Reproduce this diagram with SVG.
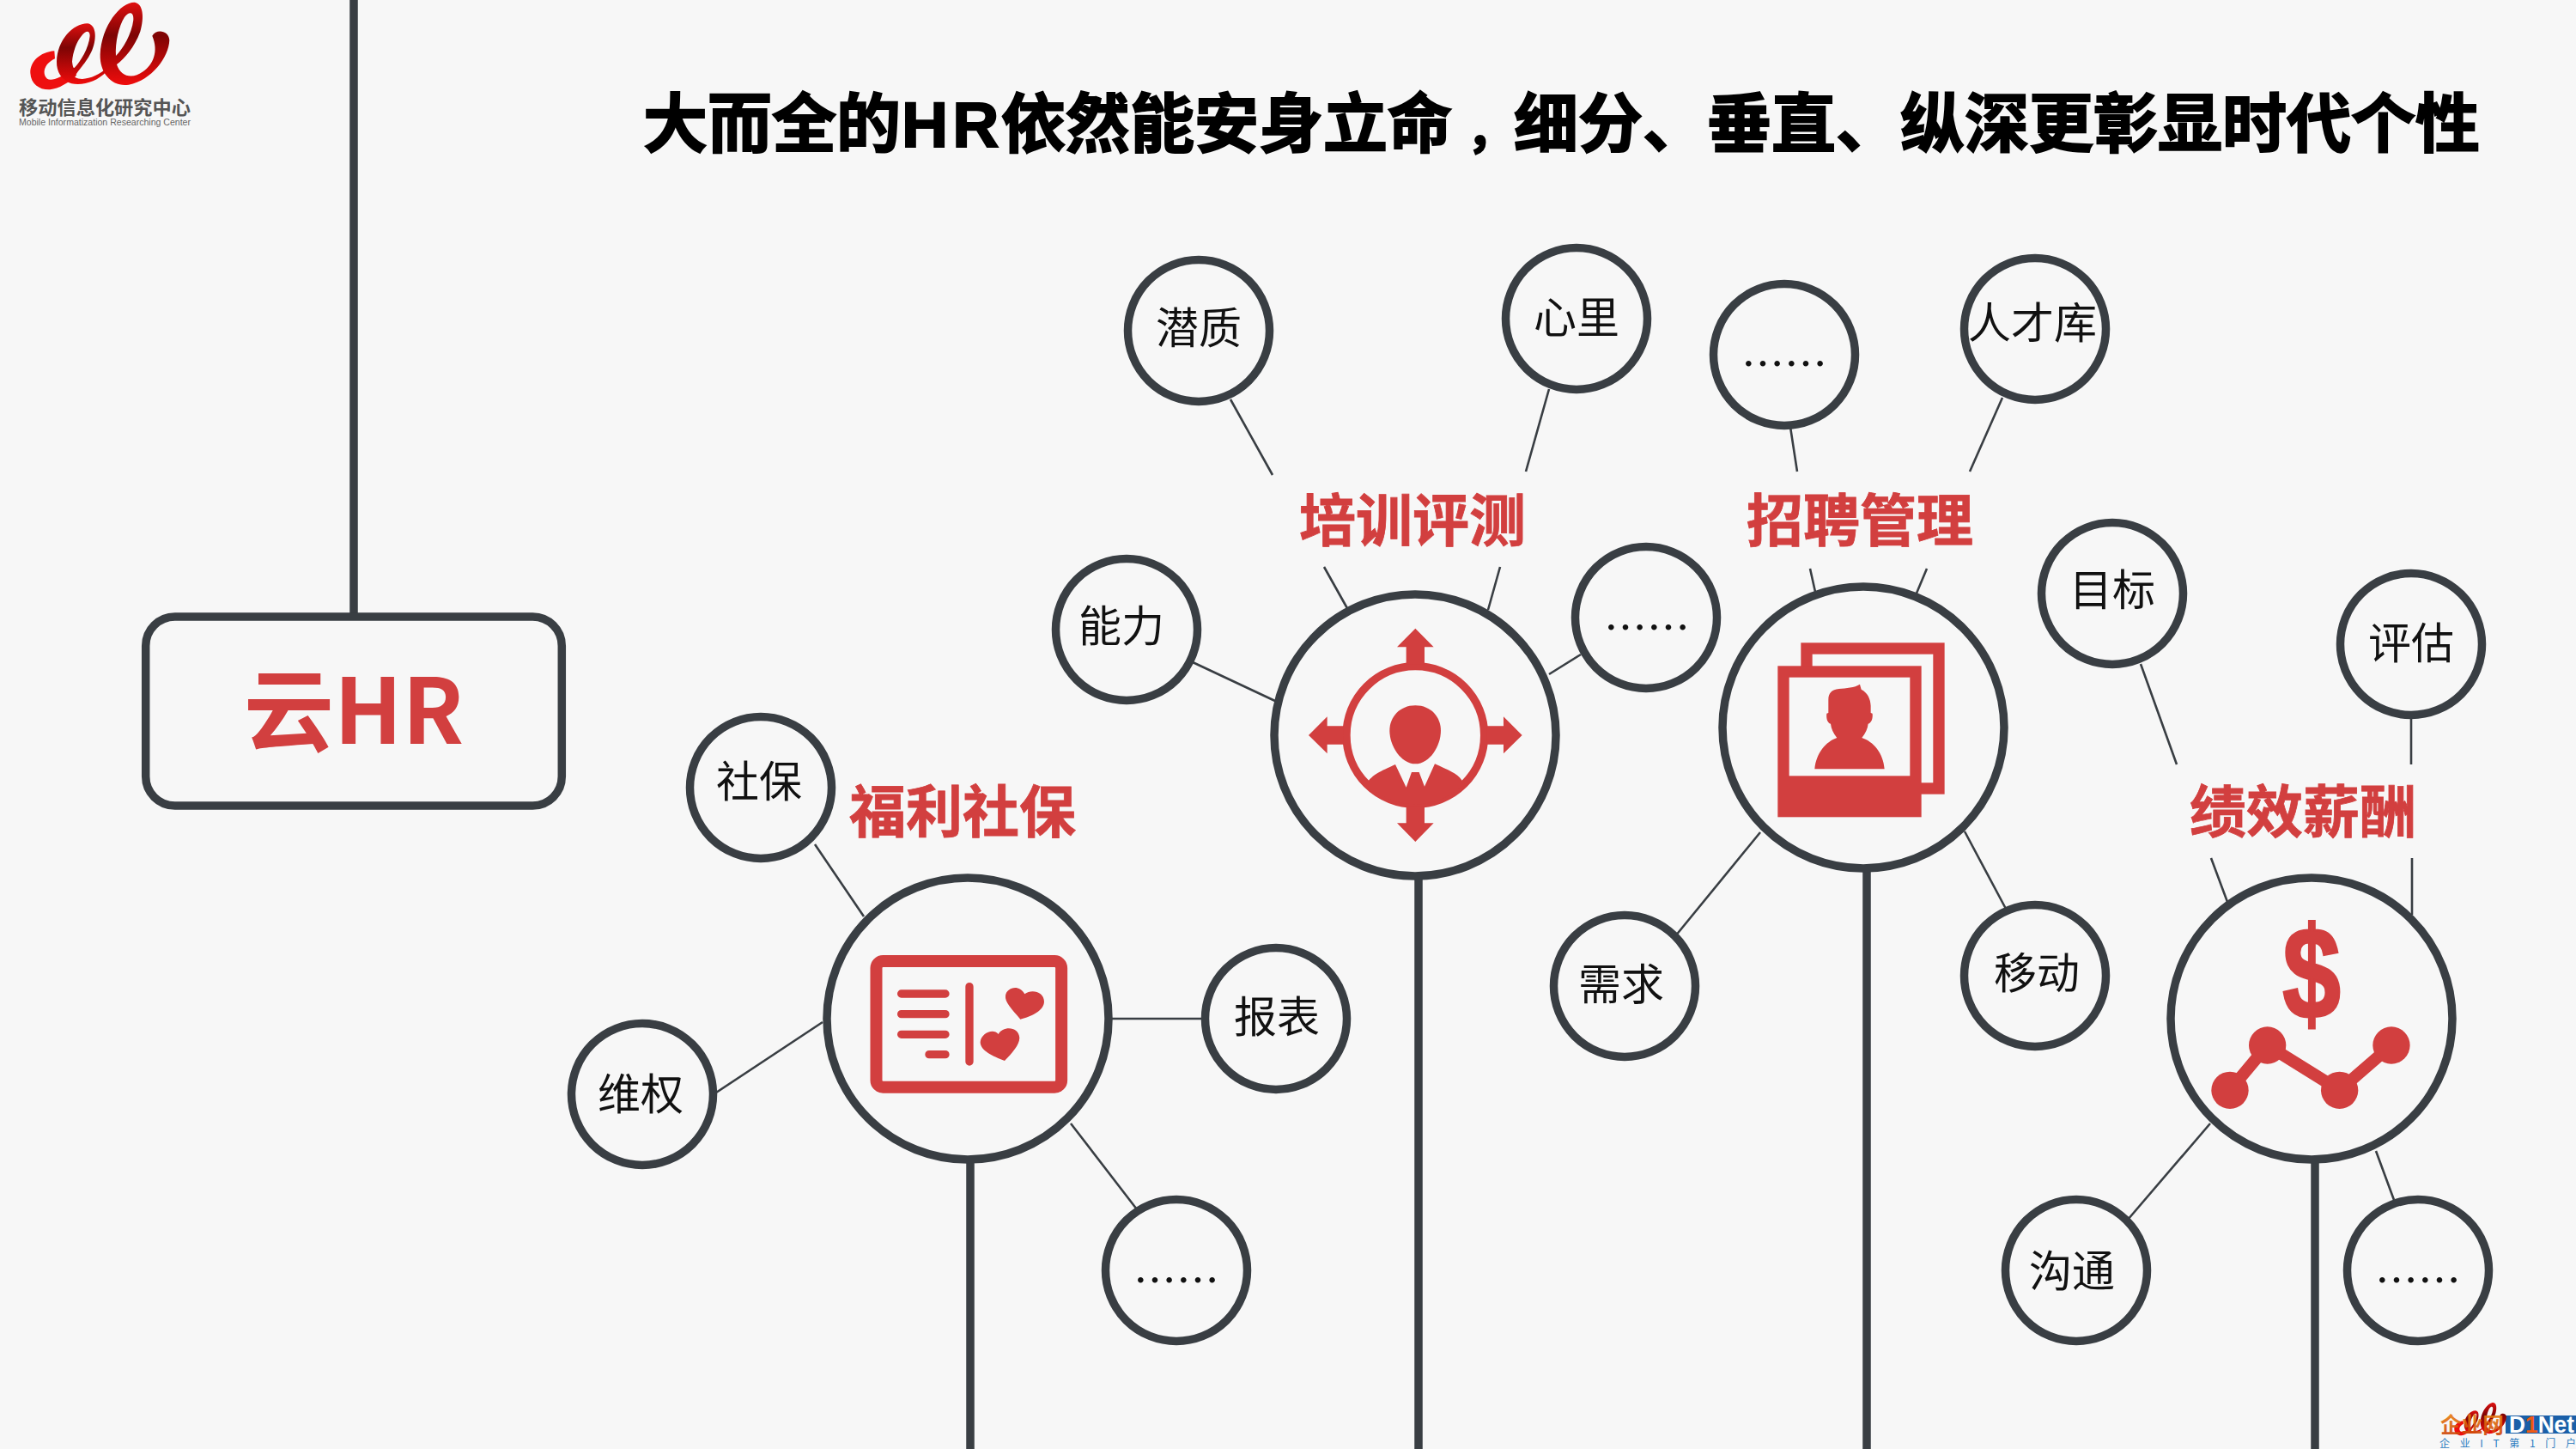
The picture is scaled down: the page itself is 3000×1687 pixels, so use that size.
<svg xmlns="http://www.w3.org/2000/svg" width="3000" height="1687" viewBox="0 0 3000 1687">
<style>
text{font-family:"Noto Sans CJK SC","Liberation Sans",sans-serif}
.stem{stroke:#393e43;stroke-width:9.5;fill:none}
.conn{stroke:#393e43;stroke-width:2.6;fill:none}
.big{fill:#f7f7f7;stroke:#393e43;stroke-width:9.5}
.small{fill:#f7f7f7;stroke:#393e43;stroke-width:9.5}
.lbl{font-size:50px;fill:#111;text-anchor:middle}
.cat{font-size:66px;font-weight:700;fill:#d23f3f;stroke:#d23f3f;stroke-width:.8;text-anchor:middle}
.r{fill:#d23f3f}
</style>
<defs>
<linearGradient id="rib" x1="0" y1="0" x2="0" y2="1"><stop offset="0" stop-color="#e01010"/><stop offset=".4" stop-color="#7d0404"/><stop offset="1" stop-color="#f00c0c"/></linearGradient>
<linearGradient id="wm" x1="0" y1="0" x2="0" y2="1"><stop offset="0" stop-color="#f09010"/><stop offset="1" stop-color="#c83a08"/></linearGradient>
<g id="ribbon">
<path fill="#ee0f0f" d="M190 178C140 182 105 215 106 255C108 295 140 315 175 313C205 310 240 290 268 262L245 245C215 270 180 285 165 275C148 260 150 225 192 205Z"/>
<path fill="url(#rib)" fill-rule="evenodd" d="M198 215C200 140 255 82 305 82C335 85 340 130 322 175C300 225 270 245 262 270C290 285 340 270 380 232L372 250C340 285 290 300 250 292C215 280 197 250 198 215ZM252 215C255 238 258 240 262 235C280 215 310 170 314 125C314 105 300 105 285 125C268 145 255 180 252 215Z"/>
<path fill="url(#rib)" fill-rule="evenodd" d="M350 190C355 90 420 8 470 8C500 12 505 60 490 110C470 165 435 205 408 225C420 265 460 280 500 250C535 225 555 180 532 125C545 100 590 105 592 140C590 200 530 280 450 296C395 305 348 260 350 190ZM405 195C430 170 460 120 466 70C468 40 450 40 435 60C415 90 402 150 405 195Z"/>
</g>
</defs>
<rect width="3000" height="1687" fill="#f7f7f7"/>

<g id="logo">
<use href="#ribbon" transform="scale(.3333)"/>
<text x="22" y="133" font-size="22" font-weight="700" fill="#555" textLength="200" lengthAdjust="spacingAndGlyphs">移动信息化研究中心</text>
<text x="22" y="146" font-size="10" fill="#666" style="font-family:'Liberation Sans',sans-serif" textLength="200" lengthAdjust="spacingAndGlyphs">Mobile  Informatization Researching Center</text>
</g>

<text id="title" y="171" font-size="75" font-weight="700" fill="#000" stroke="#000" stroke-width="2"><tspan x="749">大而全的</tspan><tspan x="1050" style="font-family:'Liberation Sans',sans-serif" letter-spacing="5">HR</tspan><tspan x="1166">依然能安身立命</tspan><tspan x="1708" font-size="55">，</tspan><tspan x="1763">细分、垂直、纵深更彰显时代个性</tspan></text>

<g id="connectors">
<path class="stem" d="M412 0V717M1652 1020V1687M2174 1010V1687M1130 1350V1687M2696 1350V1687"/>
<path class="conn" d="M1433 465L1482 553M1804 453L1777 549M2085 497L2093 549M2332 463L2294 549M1542 660L1570 710M1747 660L1733 710M2108 662L2114 689M2244 662L2231 693M1389 771L1487 817M1804 785L1841 762M1951 1090L2050 969M2288 968L2336 1058M2493 773L2535 890M2808 834V890M2575 999L2594 1050M2809 999V1065M949 983L1006 1067M834 1272L958 1190M1295 1186H1402M1247 1308L1324 1408M2478 1420L2574 1308M2767 1340L2788 1397"/>
</g>

<g id="yunhr">
<rect x="169.700" y="718" width="484.600" height="220" rx="34" fill="#f7f7f7" stroke="#393e43" stroke-width="9.500"/>
<text x="412" y="866" font-size="105" font-weight="700" fill="#d23f3f" text-anchor="middle">云HR</text>
</g>

<g id="peixun">
<circle class="big" cx="1648" cy="856" r="164"/>
<g class="r" transform="translate(1480 680) scale(.3333)">
<circle cx="505" cy="528" r="241" fill="none" stroke="#d23f3f" stroke-width="28"/>
<path d="M505 155L569 220H537V280H473V220H441ZM505 900L569 835H537V775H473V835H441ZM132 528L197 463V496H255V560H197V592ZM878 528L813 463V496H755V560H813V592Z"/>
<path d="M505 424C560 424 594 465 594 512C594 565 555 628 505 628C455 628 415 565 415 512C415 465 450 424 505 424Z"/>
<path d="M343 685C360 665 380 655 435 630L473 710L492 657H518L537 707L573 628C620 650 650 660 667 685L678 696A241 241 0 0 1 332 696Z"/>
</g>
<text class="cat" x="1645" y="630">培训评测</text>
</g>

<g id="zhaopin">
<circle class="big" cx="2170" cy="847" r="164"/>
<g transform="translate(2000 680) scale(.3333)">
<rect x="312" y="225" width="462" height="489" fill="none" stroke="#d23f3f" stroke-width="40"/>
<rect x="211" y="286" width="502" height="528" class="r"/>
<rect x="251" y="326" width="422" height="344" fill="#f7f7f7"/>
<path class="r" d="M340 646C345 590 380 550 418 537C405 520 398 505 396 488C385 485 380 470 382 452L388 450V405C388 380 400 368 425 366C450 363 480 362 498 350L503 368C525 380 535 400 536 425V450L542 452C544 470 538 485 527 488C525 505 518 520 505 537C545 550 580 590 584 646Z"/>
</g>
<text class="cat" x="2166" y="630">招聘管理</text>
</g>

<g id="fuli">
<circle class="big" cx="1127" cy="1186" r="164"/>
<g transform="translate(960 1020) scale(.3333)">
<rect x="181.500" y="297" width="647" height="440" rx="24" fill="none" stroke="#d23f3f" stroke-width="42"/>
<path d="M269 411H423M269 482H423M269 553H423M366 623H423M507 386V648" stroke="#d23f3f" stroke-width="28" stroke-linecap="round" fill="none"/>
<path class="r" d="M685 500C655 465 630 440 633 418C636 390 680 375 700 412C725 392 768 405 768 438C768 470 725 490 685 500Z"/>
<path class="r" d="M630 645C590 630 545 610 545 580C547 550 590 530 608 552C625 522 680 525 682 565C682 590 655 620 630 645Z"/>
</g>
<text class="cat" x="1121" y="969">福利社保</text>
</g>

<g id="jixiao">
<circle class="big" cx="2692" cy="1186" r="164"/>
<g transform="translate(2530 1020) scale(.3333)">
<polyline points="201,748 332,591 584,748 765,591" fill="none" stroke="#d23f3f" stroke-width="42"/>
<circle class="r" cx="201" cy="748" r="65"/><circle class="r" cx="332" cy="591" r="65"/><circle class="r" cx="584" cy="748" r="65"/><circle class="r" cx="765" cy="591" r="65"/>
</g>
<text transform="translate(2692 1186) scale(.8 1)" x="0" y="0" font-size="152" font-weight="700" fill="#d23f3f" stroke="#d23f3f" stroke-width="3" text-anchor="middle" style="font-family:'Liberation Sans',sans-serif">$</text>
<text class="cat" x="2682" y="969">绩效薪酬</text>
</g>

<g id="n1"><circle class="small" cx="1396" cy="385" r="82.500"/><text class="lbl" x="1396" y="400">潜质</text></g>
<g id="n2"><circle class="small" cx="1836" cy="371" r="82.500"/><text class="lbl" x="1836" y="388">心里</text></g>
<g id="n3"><circle class="small" cx="2078" cy="413" r="82.500"/><text class="lbl" x="2078" y="442">……</text></g>
<g id="n4"><circle class="small" cx="2370" cy="383" r="82.500"/><text class="lbl" x="2367" y="394">人才库</text></g>
<g id="n5"><circle class="small" cx="1312" cy="733" r="82.500"/><text class="lbl" x="1306" y="747">能力</text></g>
<g id="n6"><circle class="small" cx="1917" cy="719" r="82.500"/><text class="lbl" x="1918" y="749">……</text></g>
<g id="n7"><circle class="small" cx="2460" cy="691" r="82.500"/><text class="lbl" x="2460" y="705">目标</text></g>
<g id="n8"><circle class="small" cx="2808" cy="750" r="82.500"/><text class="lbl" x="2808" y="767">评估</text></g>
<g id="n9"><circle class="small" cx="886" cy="917" r="82.500"/><text class="lbl" x="884" y="928">社保</text></g>
<g id="n10"><circle class="small" cx="748" cy="1274" r="82.500"/><text class="lbl" x="746" y="1292">维权</text></g>
<g id="n11"><circle class="small" cx="1486" cy="1186" r="82.500"/><text class="lbl" x="1487" y="1202">报表</text></g>
<g id="n12"><circle class="small" cx="1370" cy="1479" r="82.500"/><text class="lbl" x="1370" y="1509">……</text></g>
<g id="n13"><circle class="small" cx="1892" cy="1148" r="82.500"/><text class="lbl" x="1888" y="1164">需求</text></g>
<g id="n14"><circle class="small" cx="2370" cy="1136" r="82.500"/><text class="lbl" x="2372" y="1151">移动</text></g>
<g id="n15"><circle class="small" cx="2418" cy="1479" r="82.500"/><text class="lbl" x="2413" y="1498">沟通</text></g>
<g id="n16"><circle class="small" cx="2816" cy="1479" r="82.500"/><text class="lbl" x="2816" y="1509">……</text></g>

<g id="watermark">
<rect x="2918" y="1648" width="82" height="21" fill="#1a5fa8"/>
<use href="#ribbon" transform="translate(2845 1632) scale(.125)"/>
<text x="2842" y="1668" font-size="25" font-weight="700" fill="url(#wm)" fill-opacity=".9" textLength="74" lengthAdjust="spacingAndGlyphs">企业网</text>
<text x="2922" y="1668" font-size="27" font-weight="700" fill="#fff" textLength="76" lengthAdjust="spacingAndGlyphs" style="font-family:'Liberation Sans',sans-serif">D<tspan fill="#f05a14">1</tspan>Net</text>
<text x="2841" y="1685" font-size="12" fill="#2b7bc0" textLength="159">企 业 I T 第 1 门 户</text>
</g>
</svg>
